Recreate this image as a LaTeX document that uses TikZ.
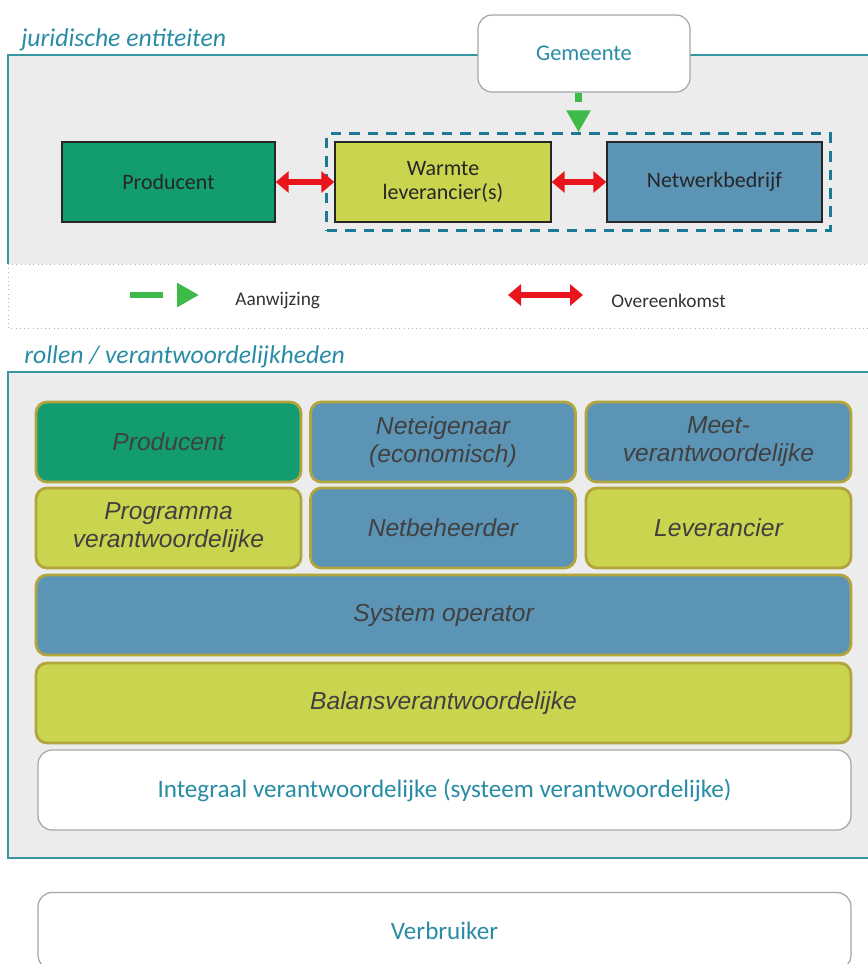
\documentclass[tikz,border=0pt]{standalone}
\usepackage{fontspec}
\setmainfont{Carlito}
\newfontfamily\rolfont{Liberation Sans}
\usetikzlibrary{arrows.meta,fit}

\definecolor{prodgroen}{RGB}{18,156,112}
\definecolor{levgeel}{RGB}{203,212,78}
\definecolor{netblauw}{RGB}{92,148,182}
\definecolor{olijf}{RGB}{178,165,62}
\definecolor{paneelgrijs}{RGB}{236,236,236}
\definecolor{tealrand}{RGB}{58,150,162}
\definecolor{tealtekst}{RGB}{40,140,165}
\definecolor{rood}{RGB}{232,22,28}
\definecolor{groen}{RGB}{62,186,72}
\definecolor{streep}{RGB}{28,122,150}

\tikzset{
	kop/.style={text=tealtekst, font=\itshape\fontsize{14.6}{16}\selectfont, inner sep=0pt},
	entiteit/.style={draw=black!85, line width=0.8pt, minimum height=1.6cm, text=black!85, align=center, inner sep=0pt, font=\fontsize{12.5}{14}\selectfont},
	groep/.style={draw=streep, line width=1.7pt, dash pattern=on 6pt off 4.5pt, inner sep=0.15cm},
	rol/.style={draw=olijf, line width=1.6pt, rounded corners=0.22cm, minimum width=5.3cm, minimum height=1.6cm, align=center, inner sep=0pt, text=black!75, font=\rolfont\itshape\fontsize{14}{16}\selectfont},
	witbox/.style={draw=gray!70, fill=white, line width=0.7pt, rounded corners=0.28cm, text=tealtekst, inner sep=0pt},
	legtekst/.style={text=black!80, font=\fontsize{11}{13}\selectfont, inner sep=0pt},
	overeenkomst/.style={rood, line width=3.8pt, {Triangle[width=0.42cm,length=0.26cm]}-{Triangle[width=0.42cm,length=0.26cm]}},
	aanwijzing/.style={groen, line width=3.8pt, -{Triangle[width=0.46cm,length=0.44cm]}}
}

\begin{document}
\begin{tikzpicture}[x=0.02cm,y=-0.02cm]

\useasboundingbox (0,0) rectangle (867,964);

% Panelen:
\fill[paneelgrijs] (8,55) rectangle (880,264);
\draw[tealrand, line width=0.8pt] (880,55) -- (8,55) -- (8,264);
\draw[gray!60, dotted] (8,264) -- (880,264);
\draw[gray!60, dotted] (8,264) -- (8,328) -- (880,328);

\fill[paneelgrijs] (8,372) rectangle (880,858);
\draw[tealrand, line width=0.8pt] (880,372) -- (8,372) -- (8,858) -- (880,858);

\node[kop, anchor=base west] (kopJur) at (21,46) {juridische entiteiten};
\node[kop, anchor=base west] (kopRol) at (24,363) {rollen / verantwoordelijkheden};

% Juridische entiteiten:
\node[witbox, minimum width=4.24cm, minimum height=1.54cm, font=\fontsize{12.8}{14}\selectfont] (gem) at (584,53.5) {Gemeente};

\node[entiteit, fill=prodgroen, minimum width=4.26cm] (prod) at (168.5,182) {Producent};
\node[entiteit, fill=levgeel, minimum width=4.32cm] (warm) at (443,182) {Warmte\\leverancier(s)};
\node[entiteit, fill=netblauw, minimum width=4.3cm] (netw) at (714.5,182) {Netwerkbedrijf};

\node[groep, fit=(warm)(netw)] (grp) {};

\draw[overeenkomst] (prod) -- (warm);
\draw[overeenkomst] (warm) -- (netw);
\draw[aanwijzing, dash pattern=on 0.18cm off 0.18cm] (grp.north |- gem.south) -- (grp.north);

% Legenda:
\coordinate (lgA1) at (130,295);
\coordinate (lgA2) at (199,295);
\draw[aanwijzing, dash pattern=on 0.66cm off 0.28cm] (lgA1) -- (lgA2);
\node[legtekst, anchor=west] (lgAtxt) at (235,301) {Aanwijzing};

\coordinate (lgO1) at (508,295);
\coordinate (lgO2) at (583,295);
\draw[overeenkomst] (lgO1) -- (lgO2);
\node[legtekst, anchor=west] (lgOtxt) at (611,301) {Overeenkomst};

% Rollen:
\foreach \naam/\x/\y/\kleur/\tekst in {
	rProd/168.5/442/prodgroen/Producent,
	rEig/443/442/netblauw/{Neteigenaar\\(economisch)},
	rMeet/718.5/442/netblauw/{Meet-\\verantwoordelijke},
	rProg/168.5/528/levgeel/{Programma\\verantwoordelijke},
	rNet/443/528/netblauw/Netbeheerder,
	rLev/718.5/528/levgeel/Leverancier} {
	\node[rol, fill=\kleur] (\naam) at (\x,\y) {\tekst};
}

\node[rol, fill=netblauw, minimum width=16.3cm] (sysop) at (443.5,615) {System operator};
\node[rol, fill=levgeel, minimum width=16.3cm] (balans) at (443.5,703) {Balansverantwoordelijke};

\node[witbox, minimum width=16.26cm, minimum height=1.6cm, font=\fontsize{14.3}{16}\selectfont] (integraal) at (444.5,790) {Integraal verantwoordelijke (systeem verantwoordelijke)};
\node[witbox, minimum width=16.26cm, minimum height=1.54cm, font=\fontsize{14.3}{16}\selectfont] (verbr) at (444.5,931) {Verbruiker};

\end{tikzpicture}
\end{document}
